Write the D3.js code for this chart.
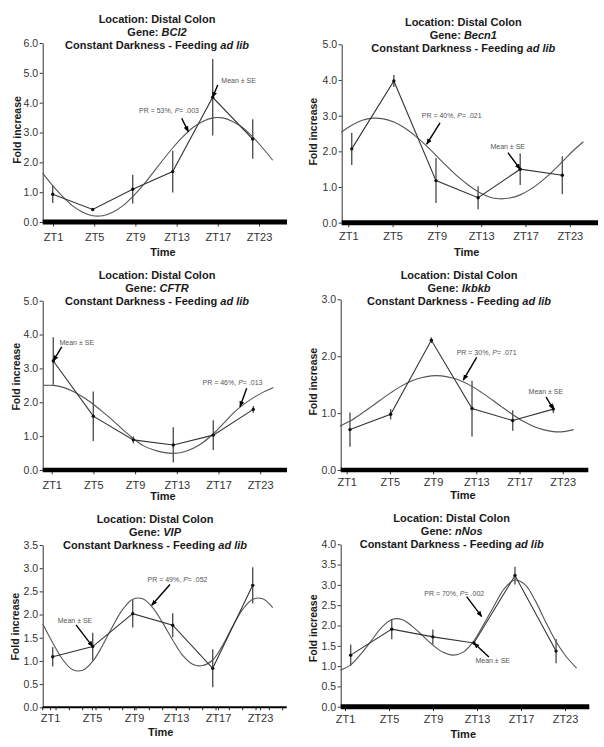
<!DOCTYPE html>
<html><head><meta charset="utf-8">
<script src="https://cdn.jsdelivr.net/npm/d3@7"></script>
<style>
body{margin:0;background:#fff;}
svg{display:block;font-family:"Liberation Sans",Arial,Helvetica,sans-serif;}
</style></head><body>
<svg id="c" width="604" height="747"></svg>
<script>
// ---- data ----
const ztLabels = ["ZT1","ZT5","ZT9","ZT13","ZT17","ZT23"];
const ztHours  = [1, 5, 9, 13, 17, 21];
const fitHours = [0,1,2,3,4,5,6,7,8,9,10,11,12,13,14,15,16,17,18,19,20,21,22,23];
const genes = ["BCl2","Becn1","CFTR","Ikbkb","VIP","nNos"];

const meanBCl2 = [0.93, 0.42, 1.10, 1.69, 4.18, 2.78];
const seBCl2   = [0.29, 0.05, 0.48, 0.70, 1.28, 0.66];
const fitBCl2  = [1.64,1.22,0.85,0.54,0.33,0.21,0.21,0.33,0.54,0.85,1.22,1.64,2.07,2.48,2.85,3.16,3.37,3.49,3.49,3.37,3.16,2.85,2.48,2.07];

const meanBecn1 = [2.07, 3.97, 1.18, 0.70, 1.50, 1.33];
const seBecn1   = [0.45, 0.17, 0.63, 0.32, 0.44, 0.53];
const fitBecn1  = [2.53,2.73,2.87,2.93,2.91,2.82,2.66,2.44,2.18,1.89,1.59,1.31,1.07,0.87,0.73,0.67,0.69,0.78,0.94,1.16,1.42,1.71,2.01,2.27];

const meanCFTR = [3.22, 1.59, 0.89, 0.74, 1.03, 1.79];
const seCFTR   = [0.70, 0.73, 0.10, 0.52, 0.44, 0.10];
const fitCFTR  = [2.50,2.50,2.44,2.32,2.15,1.94,1.70,1.45,1.18,0.93,0.72,0.60,0.52,0.49,0.53,0.64,0.82,1.07,1.37,1.68,1.93,2.13,2.30,2.44];

const meanIkbkb = [0.71, 0.98, 2.28, 1.08, 0.87, 1.07];
const seIkbkb   = [0.30, 0.09, 0.05, 0.49, 0.18, 0.07];
const fitIkbkb  = [0.77,0.86,0.975,1.10,1.23,1.355,1.47,1.56,1.62,1.655,1.655,1.62,1.56,1.47,1.355,1.23,1.10,0.975,0.86,0.77,0.71,0.675,0.675,0.71];

const meanVIP = [1.09, 1.31, 2.02, 1.77, 0.84, 2.63];
const seVIP   = [0.21, 0.30, 0.30, 0.26, 0.41, 0.39];
const fitVIP  = [1.80,1.39,1.03,0.81,0.80,0.99,1.34,1.75,2.11,2.33,2.34,2.15,1.82,1.45,1.12,0.93,0.90,1.02,1.34,1.75,2.11,2.33,2.34,2.15];

const meanNNos = [1.27, 1.91, 1.72, 1.57, 3.23, 1.37];
const seNNos   = [0.26, 0.25, 0.18, 0.05, 0.22, 0.30];
const fitNNos  = [0.90,1.03,1.30,1.62,1.95,2.15,2.15,1.98,1.75,1.52,1.34,1.27,1.35,1.62,2.05,2.50,2.92,3.12,3.00,2.60,2.08,1.60,1.23,0.95];

const prPct  = ["53%","40%","46%","30%","49%","70%"];
const prP    = [".003",".021",".013",".071",".052",".002"];
const yMaxes = [6, 5, 5, 3, 3.5, 4];
const ySteps = [1, 1, 1, 1, 0.5, 0.5];

// ---- layout ----
const panels = [
 {mean:meanBCl2, se:seBCl2, fit:fitBCl2,
  x0:42.7,k:10,axisL:42.7,axisR:287,yB:222,yT:43,barW:5,lab0:53,labStep:41.2,labY:236.7,
  titleX:157,titleY:23,timeX:163,timeY:255.5,ylabX:17,ylabY:130,
  prTip:[14.56,3.03],prTail:[-6.6,-13.4],prText:[-19.3,-18.7],
  mTip:[17,4.18],mTail:[5,-12.3],mText:[25.9,-13.8]},
 {mean:meanBecn1, se:seBecn1, fit:fitBecn1,
  x0:341.2,k:10.53,axisL:341.7,axisR:598,yB:222.7,yT:44.3,barW:5,lab0:348.3,labStep:44.3,labY:236,
  titleX:463.3,titleY:25.5,timeX:466.7,timeY:255.5,ylabX:313.3,ylabY:131.7,
  prTip:[8.12,2.2],prTail:[13.3,-21.3],prText:[25,-26.5],
  mTip:[17,1.5],mTail:[-12.3,-16.6],mText:[-12.5,-19.8]},
 {mean:meanCFTR, se:seCFTR, fit:fitCFTR,
  x0:43.3,k:10,axisL:42.7,axisR:287,yB:470,yT:300.7,barW:4.5,lab0:51.7,labStep:41.7,labY:485,
  titleX:157,titleY:279,timeX:163,timeY:499.5,ylabX:16,ylabY:376.7,
  prTip:[19.67,1.87],prTail:[6.7,-18.4],prText:[-7.5,-21.7],
  mTip:[1,3.22],mTail:[8.4,-14],mText:[23.5,-16]},
 {mean:meanIkbkb, se:seIkbkb, fit:fitIkbkb,
  x0:339.8,k:10.17,axisL:340.7,axisR:588.3,yB:470,yT:299.3,barW:4.5,lab0:346.7,labStep:43.2,labY:482.3,
  titleX:459,titleY:279,timeX:463,timeY:498.5,ylabX:313.3,ylabY:381.7,
  prTip:[12.14,1.58],prTail:[13.4,-22.7],prText:[23.4,-25.2],
  mTip:[21,1.07],mTail:[-7.3,-12],mText:[-7.5,-15.1]},
 {mean:meanVIP, se:seVIP, fit:fitVIP,
  x0:42.7,k:10,axisL:42.7,axisR:286.7,yB:707.3,yT:545,barW:2,lab0:50,labStep:42,labY:717.7,
  titleX:155,titleY:523,timeX:160.7,timeY:736.3,ylabX:15,ylabY:626.7,minor:true,
  prTip:[10.9,2.2],prTail:[18.3,-20.7],prText:[25.8,-23.2],
  mTip:[5,1.31],mTail:[-16.7,-21.7],mText:[-17.7,-23.5]},
 {mean:meanNNos, se:seNNos, fit:fitNNos,
  x0:340.4,k:10.27,axisL:340.7,axisR:589.3,yB:706.7,yT:544.3,barW:5,lab0:345,labStep:44,labY:719,
  titleX:451.7,titleY:522.3,timeX:463.3,timeY:738.3,ylabX:313.3,ylabY:628.3,
  prTip:[13.76,2.22],prTail:[-15,-20],prText:[-27.5,-20.5],
  mTip:[13,1.57],mTail:[15,14],mText:[18.8,20.5]}
];

const svg = d3.select("#c");
svg.append("rect").attr("width",604).attr("height",747).attr("fill","#fff");
svg.append("defs").append("marker").attr("id","ah")
  .attr("viewBox","0 0 10 10").attr("refX",9).attr("refY",5)
  .attr("markerWidth",6).attr("markerHeight",6).attr("markerUnits","userSpaceOnUse")
  .attr("orient","auto")
  .append("path").attr("d","M0,1 L10,5 L0,9 z").attr("fill","#000");

panels.forEach((p, pi) => {
  const g = svg.append("g");
  const yMax = yMaxes[pi], yStep = ySteps[pi];
  const x = d3.scaleLinear().domain([0,24]).range([p.x0, p.x0 + 24*p.k]);
  const y = d3.scaleLinear().domain([0,yMax]).range([p.yB, p.yT]);

  // title
  const t = g.append("text").attr("text-anchor","middle").attr("font-size",11)
    .attr("font-weight","bold").attr("fill","#1a1a1a");
  t.append("tspan").attr("x",p.titleX).attr("y",p.titleY).text("Location: Distal Colon");
  const l2 = t.append("tspan").attr("x",p.titleX).attr("y",p.titleY+13);
  l2.append("tspan").text("Gene: ");
  l2.append("tspan").attr("font-style","italic").text(genes[pi]);
  const l3 = t.append("tspan").attr("x",p.titleX).attr("y",p.titleY+26);
  l3.append("tspan").text("Constant Darkness - Feeding ");
  l3.append("tspan").attr("font-style","italic").text("ad lib");

  // y axis
  const tv = d3.range(0, yMax + 1e-9, yStep);
  const ya = g.append("g").attr("transform",`translate(${p.axisL},0)`)
    .call(d3.axisLeft(y).tickValues(tv).tickFormat(d3.format(".1f")).tickSize(3).tickSizeOuter(0).tickPadding(1.5));
  ya.select(".domain").attr("stroke","#333").attr("stroke-width",1);
  ya.selectAll(".tick line").attr("stroke","#333");
  ya.selectAll(".tick text").attr("font-size",10.5).attr("fill","#333")
    .attr("font-family","'Liberation Sans',Arial,sans-serif");

  // x axis labels
  const xl = d3.scalePoint().domain(ztLabels).range([p.lab0, p.lab0 + 5*p.labStep]);
  const xa = g.append("g").attr("transform",`translate(0,${p.yB})`)
    .call(d3.axisBottom(xl).tickSize(p.barW/2 + 2).tickSizeOuter(0));
  xa.select(".domain").remove();
  xa.selectAll(".tick line").attr("stroke","#333");
  xa.selectAll(".tick text").attr("y", p.labY - p.yB).attr("dy","0.36em")
    .attr("font-size",11).attr("fill","#333")
    .attr("font-family","'Liberation Sans',Arial,sans-serif");
  if (p.minor) {
    const mt = d3.range(0, 24.4, 4/3);
    g.selectAll(".mt").data(mt).join("line")
      .attr("x1",d=>x(d)).attr("x2",d=>x(d))
      .attr("y1",p.yB).attr("y2",p.yB+3).attr("stroke","#222").attr("stroke-width",1);
  }
  // thick baseline
  g.append("line").attr("x1",p.axisL).attr("x2",p.axisR)
    .attr("y1",p.yB).attr("y2",p.yB).attr("stroke","#000").attr("stroke-width",p.barW);

  // axis titles
  g.append("text").attr("x",p.timeX).attr("y",p.timeY).attr("text-anchor","middle")
    .attr("font-size",11).attr("font-weight","bold").attr("fill","#1a1a1a").text("Time");
  g.append("text").attr("transform",`translate(${p.ylabX+3.8},${p.ylabY}) rotate(-90)`)
    .attr("text-anchor","middle").attr("font-size",10.5).attr("font-weight","bold")
    .attr("fill","#1a1a1a").text("Fold increase");

  // fitted curve
  const fitLine = d3.line().x((d,i)=>x(fitHours[i])).y(d=>y(d)).curve(d3.curveCatmullRom.alpha(0.5));
  g.append("path").attr("d",fitLine(p.fit)).attr("fill","none")
    .attr("stroke","#555").attr("stroke-width",1.1);

  // mean line
  const meanLine = d3.line().x((d,i)=>x(ztHours[i])).y(d=>y(d));
  g.append("path").attr("d",meanLine(p.mean)).attr("fill","none")
    .attr("stroke","#333").attr("stroke-width",1.1);

  // error bars
  g.selectAll(".eb").data(p.mean).join("line")
    .attr("x1",(d,i)=>x(ztHours[i])).attr("x2",(d,i)=>x(ztHours[i]))
    .attr("y1",(d,i)=>y(d - p.se[i])).attr("y2",(d,i)=>y(d + p.se[i]))
    .attr("stroke","#555").attr("stroke-width",1.4);
  // points
  g.selectAll(".pt").data(p.mean).join("circle")
    .attr("cx",(d,i)=>x(ztHours[i])).attr("cy",d=>y(d)).attr("r",1.7).attr("fill","#111");

  // annotations
  function arrow(tip, tail) {
    const tx = x(tip[0]), ty = y(tip[1]);
    g.append("line").attr("x1",tx+tail[0]).attr("y1",ty+tail[1])
      .attr("x2",tx).attr("y2",ty).attr("stroke","#000").attr("stroke-width",1.4)
      .attr("marker-end","url(#ah)");
    return [tx, ty];
  }
  const [px, py] = arrow(p.prTip, p.prTail);
  const prT = g.append("text").attr("x",px+p.prText[0]).attr("y",py+p.prText[1])
    .attr("text-anchor","middle").attr("font-size",7).attr("fill","#555");
  prT.append("tspan").text(`PR = ${prPct[pi]}, `);
  prT.append("tspan").attr("font-style","italic").text("P");
  prT.append("tspan").text(`= ${prP[pi]}`);
  const [mx, my] = arrow(p.mTip, p.mTail);
  g.append("text").attr("x",mx+p.mText[0]).attr("y",my+p.mText[1])
    .attr("text-anchor","middle").attr("font-size",7).attr("fill","#555").text("Mean ± SE");
});
</script>
</body></html>
